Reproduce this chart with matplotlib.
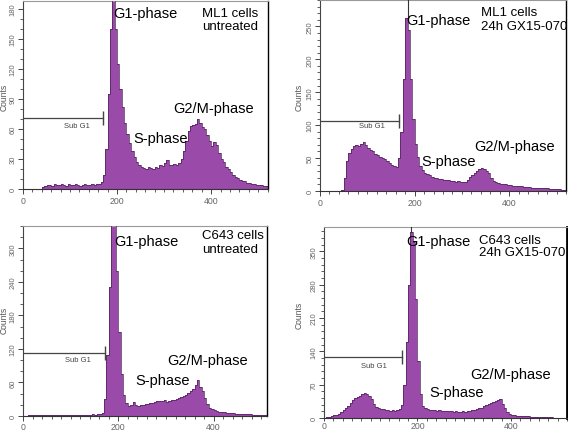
import numpy as np
import matplotlib
matplotlib.use('Agg')
import matplotlib.pyplot as plt
import matplotlib.ticker as mticker

plt.rcParams['font.family'] = ['Liberation Sans', 'DejaVu Sans']

# ── DATA (5-channel bins, counts) ─────────────────────────────────────────────
BIN = 5

ml1_untreated = [
    0, 0, 0, 0, 0, 0, 0, 0, 2, 3, 4, 4, 3, 5, 4, 4, 5, 4, 3, 5,
    4, 4, 5, 4, 3, 4, 5, 4, 4, 5, 4, 5, 5, 7, 14, 40, 95, 160, 195, 160,
    125, 100, 82, 66, 55, 46, 38, 32, 27, 24, 22, 21, 20, 22, 21, 20, 22, 21, 24, 23,
    26, 29, 24, 24, 25, 24, 26, 30, 38, 48, 58, 63, 64, 65, 70, 66, 62, 60, 54, 48,
    43, 47, 44, 36, 30, 27, 22, 20, 17, 14, 12, 11, 9, 8, 8, 6, 6, 5, 5, 4,
    4, 4, 3, 3,
]

ml1_treated = [
    0, 0, 0, 0, 0, 0, 0, 0, 0, 2, 20, 45, 58, 64, 68, 70, 69, 72, 74, 70,
    66, 62, 60, 56, 54, 52, 50, 48, 46, 42, 39, 38, 36, 50, 90, 170, 262, 245, 170, 110,
    72, 52, 38, 32, 28, 26, 24, 22, 20, 19, 18, 18, 17, 16, 16, 15, 15, 14, 15, 14,
    13, 14, 17, 21, 25, 28, 31, 33, 35, 33, 30, 27, 20, 15, 13, 12, 11, 10, 10, 9,
    9, 8, 8, 8, 7, 7, 6, 6, 6, 5, 5, 5, 5, 4, 4, 4, 4, 3, 3, 3,
    3, 3, 2, 2,
]

c643_untreated = [
    0, 0, 1, 1, 1, 2, 1, 1, 2, 1, 1, 2, 1, 2, 1, 1, 2, 1, 2, 1,
    2, 1, 2, 2, 1, 2, 2, 2, 2, 3, 2, 3, 3, 6, 30, 110, 230, 345, 345, 260,
    150, 75, 38, 24, 18, 20, 25, 19, 18, 19, 20, 21, 22, 24, 23, 25, 26, 27, 26, 28,
    25, 27, 28, 29, 30, 32, 34, 36, 38, 41, 44, 48, 56, 64, 52, 44, 32, 22, 15, 12,
    10, 9, 8, 7, 7, 6, 6, 5, 5, 4, 4, 4, 3, 3, 3, 3, 2, 2, 2, 2,
    2, 1, 1, 1,
]

c643_treated = [
    0, 2, 3, 4, 6, 7, 9, 12, 16, 21, 26, 32, 38, 42, 45, 47, 50, 52, 50, 47,
    40, 30, 24, 21, 19, 18, 17, 16, 15, 16, 15, 16, 18, 28, 70, 160, 280, 390, 370, 250,
    120, 50, 26, 20, 18, 17, 16, 16, 15, 16, 15, 14, 15, 14, 14, 13, 14, 13, 13, 14,
    13, 14, 15, 16, 17, 18, 20, 22, 25, 27, 29, 31, 33, 36, 38, 40, 30, 20, 13, 9,
    7, 6, 5, 5, 5, 4, 4, 4, 3, 3, 3, 3, 3, 2, 2, 2, 2, 2, 1, 1,
    1, 1, 1, 1,
]

titles = [("ML1 cells", "untreated"), ("ML1 cells", "24h GX15-070"),
          ("C643 cells", "untreated"), ("C643 cells", "24h GX15-070")]
y_limits = [188, 290, 340, 401]
x_limits = [521, 520, 512, 520]
y_steps = [30, 50, 60, 70]
y_minor = [3, 5, 3, 5]
g1_pos = [191, 185, 190, 187]
subg1_end = [170, 166, 172, 166]
subg1_level = [71, 107, 112, 128]

series = [ml1_untreated, ml1_treated, c643_untreated, c643_treated]

# ── LAYOUT (pixels in a 568 x 435 canvas) ────────────────────────────────────
W, H = 568, 435
boxes = [(23, 268, 2, 190), (320, 566, 1, 192), (23, 267, 227, 417), (324, 567, 228, 419)]
# label positions in pixels: G1, S, G2/M, title, Sub G1 centre, Counts
g1_txt = [(113, 14), (406, 21), (114, 242), (406, 242)]
s_txt = [(133, 139), (421, 162), (135, 381), (429, 393)]
g2_txt = [(173, 109), (474, 147), (167, 361), (470, 375)]
ttl_txt = [(202, 14), (481, 13), (202, 236), (479, 241)]
ttl_gap = [13, 13.5, 14.5, 12.5]
sub_txt = [(77, 127), (372, 127), (78, 361), (374, 367)]
cnt_txt = [(4.5, 97), (299, 97), (4.5, 320), (299, 315)]
x_tick_len = [3.6, 3.6, 3.6, 2.2]
x_tick_pad = [1.5, 1.5, 1.0, 0.3]

FILL = '#9a4aa8'
EDGE = '#4a1f55'

fig = plt.figure(figsize=(W / 100, H / 100), dpi=100, facecolor='white')


def fx(px):
    return px / W


def fy(py):
    return 1 - py / H


for i, counts in enumerate(series):
    l, r, t, b = boxes[i]
    ax = fig.add_axes([fx(l), fy(b), (r - l) / W, (b - t) / H])
    edges = np.arange(0, BIN * (len(counts) + 1), BIN)
    ax.stairs(counts, edges, fill=True, facecolor=FILL, edgecolor=FILL, lw=0, zorder=2)
    ax.stairs(counts, edges, fill=False, edgecolor=EDGE, lw=0.5, zorder=3)

    ymax = y_limits[i]
    ax.set_xlim(0, x_limits[i])
    ax.set_ylim(0, ymax)

    # G1 cursor line running up to the frame
    peak = max(counts)
    ax.plot([g1_pos[i], g1_pos[i]], [min(peak, ymax), ymax], color='#333333', lw=0.8, zorder=4)

    # Sub G1 gate
    ax.plot([0, subg1_end[i]], [subg1_level[i]] * 2, color='#444444', lw=0.9, zorder=4)
    ax.plot([subg1_end[i]], [subg1_level[i]], marker='|', ms=10, mew=1.0, color='#444444', zorder=4)

    # ticks
    ax.xaxis.set_major_locator(mticker.MultipleLocator(200))
    ax.xaxis.set_minor_locator(mticker.MultipleLocator(20))
    ax.yaxis.set_major_locator(mticker.MultipleLocator(y_steps[i]))
    ax.yaxis.set_minor_locator(mticker.AutoMinorLocator(y_minor[i]))
    ax.tick_params(axis='both', which='major', width=0.7, color='#444444', labelcolor='#666666')
    ax.tick_params(axis='x', which='major', labelsize=6.3, length=x_tick_len[i], pad=x_tick_pad[i])
    ax.tick_params(axis='y', which='major', labelsize=5.5, length=3.6, pad=1.0, labelrotation=90)
    ax.tick_params(axis='both', which='minor', length=2.0, width=0.6, color='#444444')
    for lab in ax.get_yticklabels():
        lab.set_va('center')

    ax.spines['left'].set_color('#444444')
    ax.spines['bottom'].set_color('#333333')
    ax.spines['top'].set_color('#999999')
    ax.spines['right'].set_color('black')
    for s in ax.spines.values():
        s.set_linewidth(0.8)
    ax.spines['right'].set_linewidth(2.0 if i == 3 else 1.0)

    # text labels
    kw = dict(transform=fig.transFigure, va='center', ha='left', color='black')
    fig.text(fx(g1_txt[i][0]), fy(g1_txt[i][1]), 'G1-phase', fontsize=10.5, **kw)
    fig.text(fx(s_txt[i][0]), fy(s_txt[i][1]), 'S-phase', fontsize=10.5, **kw)
    fig.text(fx(g2_txt[i][0]), fy(g2_txt[i][1]), 'G2/M-phase', fontsize=10.5, **kw)
    fig.text(fx(ttl_txt[i][0]), fy(ttl_txt[i][1]), titles[i][0], fontsize=9.5, **kw)
    fig.text(fx(ttl_txt[i][0]), fy(ttl_txt[i][1] + ttl_gap[i]), titles[i][1], fontsize=9.5, **kw)
    fig.text(fx(sub_txt[i][0]), fy(sub_txt[i][1]), 'Sub G1', fontsize=5.5, color='#444444',
             ha='center', va='center', transform=fig.transFigure)
    fig.text(fx(cnt_txt[i][0]), fy(cnt_txt[i][1]), 'Counts', fontsize=6.2, color='#555555',
             rotation=90, ha='center', va='center', transform=fig.transFigure)

fig.savefig('out.png', dpi=100, facecolor='white')
